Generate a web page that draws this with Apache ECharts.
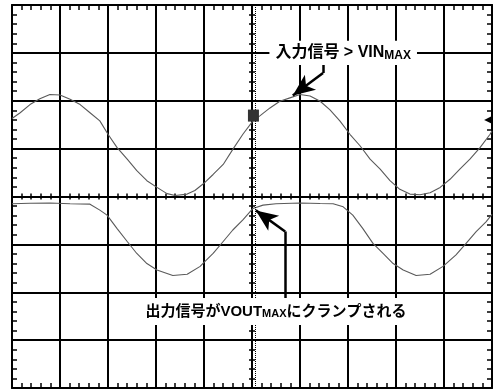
<!DOCTYPE html>
<html><head><meta charset="utf-8">
<script src="https://cdn.jsdelivr.net/npm/echarts@6/dist/echarts.min.js"></script>
<style>html,body{margin:0;padding:0;background:#fff}#c{width:493px;height:389px}</style>
</head><body><div id="c"></div>
<script>
// time in divisions (center = 0), voltage in divisions (center = 0)
const inTime = [-5.00,-4.83,-4.625,-4.42,-4.21,-4.0,-3.79,-3.58,-3.375,-3.17,-3.0,-2.81,-2.6,-2.4,-2.19,-1.98,-1.77,-1.6,-1.35,-1.19,-1.02,-0.81,-0.6,-0.4,-0.19,0.02,0.17,0.375,0.58,0.79,1.0,1.21,1.42,1.625,1.83,2.04,2.25,2.46,2.67,2.875,3.08,3.29,3.5,3.71,3.92,4.125,4.33,4.54,4.75,4.96,5.0];
const inVolt = [1.63,1.75,1.92,2.04,2.13,2.12,2.03,1.92,1.75,1.58,1.30,1.02,0.78,0.54,0.33,0.19,0.06,0.02,0.05,0.125,0.26,0.46,0.67,0.985,1.30,1.58,1.69,1.85,1.99,2.06,2.13,2.10,1.99,1.81,1.58,1.30,1.06,0.78,0.57,0.33,0.15,0.05,0.035,0.08,0.19,0.36,0.57,0.78,1.02,1.30,1.37];
const outTime = [-5.0,-4.625,-4.21,-3.79,-3.375,-3.17,-3.02,-2.81,-2.6,-2.4,-2.19,-1.98,-1.65,-1.35,-1.08,-1.0,-0.81,-0.6,-0.4,-0.19,0.02,0.23,0.5,1.0,1.42,1.69,1.9,2.1,2.31,2.52,2.73,2.94,3.15,3.42,3.71,3.98,4.25,4.46,4.67,4.875,5.0];
const outVolt = [-0.15,-0.14,-0.135,-0.15,-0.16,-0.285,-0.39,-0.67,-0.94,-1.19,-1.40,-1.535,-1.65,-1.625,-1.46,-1.375,-1.19,-0.94,-0.70,-0.49,-0.25,-0.18,-0.15,-0.135,-0.145,-0.15,-0.215,-0.39,-0.67,-0.98,-1.19,-1.40,-1.535,-1.65,-1.625,-1.46,-1.22,-0.98,-0.735,-0.53,-0.375];
const xRange = [-5, 5];
const yRange = [-4, 4];
const label1 = ['入力信号 > VIN', 'MAX'];
const label2 = ['出力信号がVOUT', 'MAX', 'にクランプされる'];

const FONT = '"Liberation Sans","Noto Sans CJK JP",sans-serif';
function axis(kind, pos, onZero, split, tickLen, inside) {
  const r = kind === 'x' ? xRange : yRange;
  return {
    type: 'value', min: r[0], max: r[1], interval: 1, position: pos,
    axisLine: {show: true, onZero: onZero, onZeroAxisIndex: 0, lineStyle: {color: '#000', width: 2}},
    axisTick: {show: true, inside: inside, length: tickLen, lineStyle: {color: '#000', width: 1.5}},
    minorTick: {show: true, splitNumber: 5, length: tickLen, lineStyle: {color: '#000', width: 1.5}},
    axisLabel: {show: false},
    splitLine: {show: split, lineStyle: {color: '#000', width: 2}},
    minorSplitLine: {show: false}
  };
}
const chart = echarts.init(document.getElementById('c'));
chart.setOption({
  animation: false,
  backgroundColor: '#fff',
  grid: {left: 12, top: 5, width: 480, height: 383, show: false},
  xAxis: [axis('x','bottom',false,true,5,true), axis('x','top',false,false,5,true),
          axis('x','bottom',true,false,3,false), axis('x','top',true,false,3,false)],
  yAxis: [axis('y','left',false,true,5,true), axis('y','right',false,false,5,true),
          axis('y','left',true,false,3,false), axis('y','right',true,false,3,false)],
  series: [
    {
      type: 'line', xAxisIndex: 0, yAxisIndex: 0, showSymbol: false, z: 5,
      data: inTime.map((t, i) => [t, inVolt[i]]),
      lineStyle: {color: '#5a5a5a', width: 1.1},
      markLine: {
        silent: true, symbol: ['none', 'none'], symbolSize: [14, 22], z: 20,
        lineStyle: {color: '#000', width: 2.5, type: 'solid'},
        label: {show: false},
        data: [
          [{coord: [1.48, 2.76]}, {coord: [1.48, 2.58]}],
          [{coord: [1.48, 2.58]}, {coord: [0.85, 2.11], symbol: 'arrow'}],
          [{coord: [0.69, -2.12]}, {coord: [0.69, -0.73]}],
          [{coord: [0.69, -0.73]}, {coord: [0.08, -0.29], symbol: 'arrow'}],
          {xAxis: 0.06, lineStyle: {type: 'dotted', width: 1, color: '#000'}}
        ]
      },
      markPoint: {
        silent: true, z: 30,
        data: [
          {coord: [1.9, 3.0], symbol: 'rect', symbolSize: 0,
           label: {show: true, position: 'inside', backgroundColor: '#fff', padding: [3, 6, 3, 6],
             formatter: '{a|' + label1[0] + '}{b|' + label1[1] + '}',
             rich: {a: {fontFamily: FONT, fontWeight: 'bold', fontSize: 16, color: '#000'},
                    b: {fontFamily: FONT, fontWeight: 'bold', fontSize: 12, color: '#000', verticalAlign: 'bottom', padding: [6,0,0,0]}}}},
          {coord: [0.5, -2.4], symbol: 'rect', symbolSize: 0,
           label: {show: true, position: 'inside', backgroundColor: '#fff', padding: [5, 4, 5, 4],
             formatter: '{a|' + label2[0] + '}{b|' + label2[1] + '}{a|' + label2[2] + '}',
             rich: {a: {fontFamily: FONT, fontWeight: 'bold', fontSize: 15, color: '#000'},
                    b: {fontFamily: FONT, fontWeight: 'bold', fontSize: 11, color: '#000', verticalAlign: 'bottom', padding: [6,0,0,0]}}}},
          {coord: [0.03, 1.69], symbol: 'rect', symbolSize: [11, 12], itemStyle: {color: '#333'}, label: {show: false}},
          {coord: [4.93, 1.6], symbol: 'triangle', symbolRotate: 90, symbolSize: [9, 9], itemStyle: {color: '#000'}, label: {show: false}}
        ]
      }
    },
    {
      type: 'line', xAxisIndex: 0, yAxisIndex: 0, showSymbol: false, z: 5,
      data: outTime.map((t, i) => [t, outVolt[i]]),
      lineStyle: {color: '#5a5a5a', width: 1.1}
    }
  ]
});
</script></body></html>
